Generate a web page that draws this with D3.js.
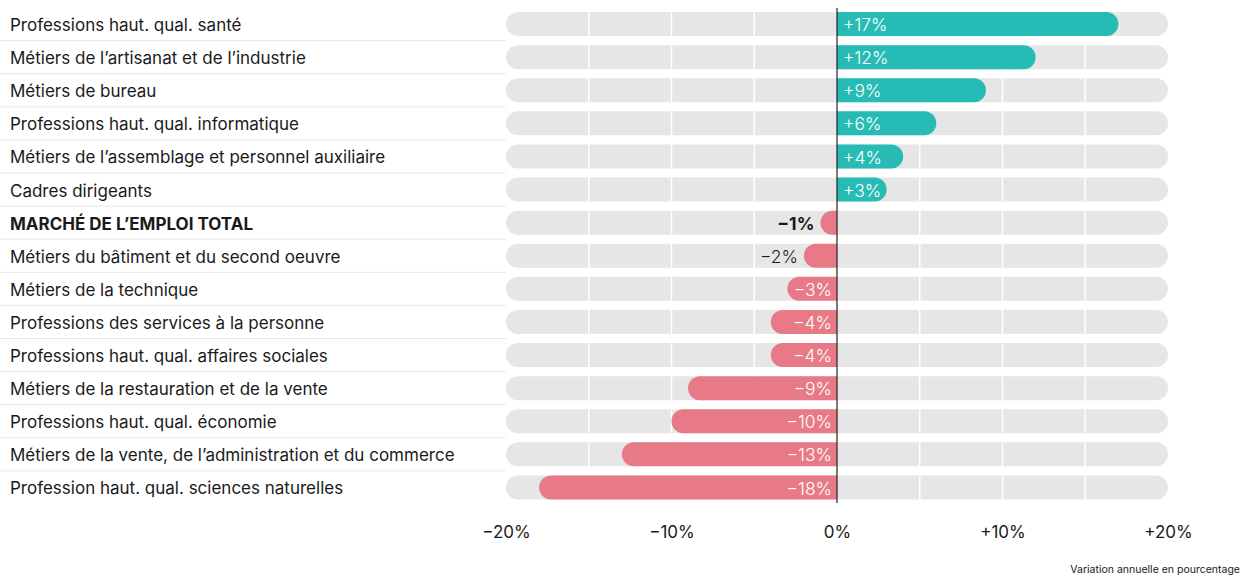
<!DOCTYPE html>
<html>
<head>
<meta charset="utf-8">
<script src="https://cdn.jsdelivr.net/npm/d3@7"></script>
<style>
  body { margin: 0; background: #fff; }
  svg { font-family: Inter, "Noto Sans", sans-serif; }
</style>
</head>
<body>
<svg id="chart" width="1240" height="575"></svg>
<script>
// categories and values (annual change, %)
const categories = [
  'Professions haut. qual. santé',
  'Métiers de l’artisanat et de l’industrie',
  'Métiers de bureau',
  'Professions haut. qual. informatique',
  'Métiers de l’assemblage et personnel auxiliaire',
  'Cadres dirigeants',
  'MARCHÉ DE L’EMPLOI TOTAL',
  'Métiers du bâtiment et du second oeuvre',
  'Métiers de la technique',
  'Professions des services à la personne',
  'Professions haut. qual. affaires sociales',
  'Métiers de la restauration et de la vente',
  'Professions haut. qual. économie',
  'Métiers de la vente, de l’administration et du commerce',
  'Profession haut. qual. sciences naturelles'
]
const values = [17, 12, 9, 6, 4, 3, -1, -2, -3, -4, -4, -9, -10, -13, -18]
const totalLabel = 'MARCHÉ DE L’EMPLOI TOTAL'
const tickValues = [-20, -10, 0, 10, 20]
const gridValues = [-15, -10, -5, 5, 10, 15]
const axisNote = 'Variation annuelle en pourcentage'

const rows = categories.map((c, i) => ({ name: c, value: values[i] }))

const svg = d3.select('#chart')
const x = d3.scaleLinear().domain([-20, 20]).range([506, 1168])
const y = d3.scaleBand().domain(categories).range([7.5, 504])
const barH = 24
const r = barH / 2
const off = (y.step() - barH) / 2

const fmt = v => v > 0 ? '+' + v + '%' : v < 0 ? '\u2212' + Math.abs(v) + '%' : '0%'

// row separators on the label side
svg.selectAll('line.sep')
  .data(categories.slice(0, -1))
  .join('line')
  .attr('class', 'sep')
  .attr('x1', 0)
  .attr('x2', x(-20))
  .attr('y1', d => y(d) + y.step())
  .attr('y2', d => y(d) + y.step())
  .attr('stroke', '#e8e8e8')
  .attr('stroke-width', 1)

// labels
svg.selectAll('text.cat')
  .data(rows)
  .join('text')
  .attr('class', 'cat')
  .attr('x', 10)
  .attr('y', d => y(d.name) + y.step() / 2 + 1)
  .attr('dy', '0.35em')
  .style('font-size', '17px')
  .style('font-weight', d => d.name === totalLabel ? 700 : 400)
  .attr('fill', '#1a1a1a')
  .text(d => d.name)

// grey tracks
svg.selectAll('rect.track')
  .data(rows)
  .join('rect')
  .attr('class', 'track')
  .attr('x', x(-20))
  .attr('width', x(20) - x(-20))
  .attr('y', d => y(d.name) + off)
  .attr('height', barH)
  .attr('rx', r)
  .attr('fill', '#e6e6e6')

// white grid lines over the tracks
rows.forEach(d => {
  svg.selectAll(null)
    .data(gridValues)
    .join('line')
    .attr('x1', v => x(v))
    .attr('x2', v => x(v))
    .attr('y1', y(d.name) + off)
    .attr('y2', y(d.name) + off + barH)
    .attr('stroke', '#fff')
    .attr('stroke-width', 1.5)
})

// bars rounded on the outer end only
function barPath (d) {
  const y0 = y(d.name) + off
  const y1 = y0 + barH
  const x0 = x(0)
  const x1 = x(d.value)
  const w = Math.abs(x1 - x0)
  const rr = Math.min(r, w)
  if (d.value >= 0) {
    return `M${x0},${y0}H${x1 - rr}A${rr},${r} 0 0 1 ${x1},${y0 + r}A${rr},${r} 0 0 1 ${x1 - rr},${y1}H${x0}Z`
  }
  return `M${x0},${y0}H${x1 + rr}A${rr},${r} 0 0 0 ${x1},${y0 + r}A${rr},${r} 0 0 0 ${x1 + rr},${y1}H${x0}Z`
}

svg.selectAll('path.bar')
  .data(rows)
  .join('path')
  .attr('class', 'bar')
  .attr('d', barPath)
  .attr('fill', d => d.value >= 0 ? '#26bcb5' : '#e77a86')

// value labels
const inside = d => Math.abs(x(d.value) - x(0)) > 40
svg.selectAll('text.val')
  .data(rows)
  .join('text')
  .attr('class', 'val')
  .attr('x', d => {
    if (d.value >= 0) return x(0) + 6
    return inside(d) ? x(0) - 5 : x(d.value) - 6
  })
  .attr('y', d => y(d.name) + y.step() / 2 + 1)
  .attr('dy', '0.35em')
  .attr('text-anchor', d => d.value >= 0 ? 'start' : 'end')
  .style('font-size', '17.5px')
  .style('font-weight', d => d.name === totalLabel ? 700 : 300)
  .attr('fill', d => inside(d) ? '#fff' : '#1a1a1a')
  .text(d => fmt(d.value))

// zero line
svg.append('line')
  .attr('x1', x(0))
  .attr('x2', x(0))
  .attr('y1', 8)
  .attr('y2', 503)
  .attr('stroke', '#222')
  .attr('stroke-width', 1.2)

// axis
const axis = svg.append('g')
  .attr('transform', 'translate(0,523)')
  .call(d3.axisBottom(x).tickValues(tickValues).tickSize(0).tickFormat(fmt))
axis.select('.domain').remove()
axis.selectAll('text')
  .style('font-size', '17px')
  .style('font-family', 'Inter, "Noto Sans", sans-serif')
  .attr('fill', '#1a1a1a')

svg.append('text')
  .attr('x', 1240)
  .attr('y', 573)
  .attr('text-anchor', 'end')
  .style('font-size', '10.5px')
  .attr('fill', '#1a1a1a')
  .text(axisNote)
</script>
</body>
</html>
